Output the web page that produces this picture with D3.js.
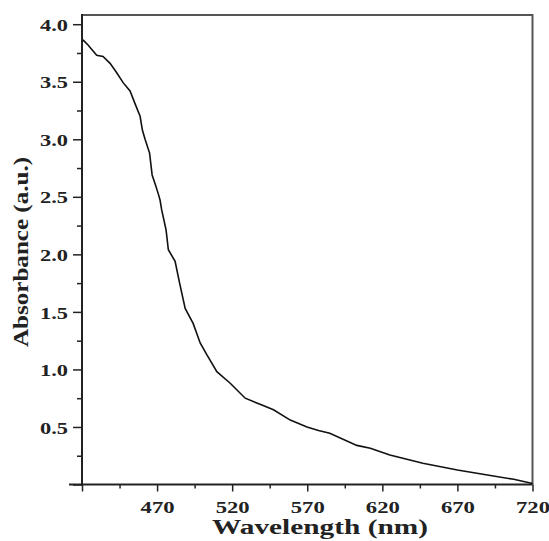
<!DOCTYPE html>
<html>
<head>
<meta charset="utf-8">
<script src="https://cdn.jsdelivr.net/npm/d3@7"></script>
<style>
  body { margin: 0; background: #fff; }
  svg text { font-family: "Liberation Serif", "Times New Roman", Times, serif; font-weight: bold; fill: #222; }
</style>
</head>
<body>
<main></main>
<script>
// spectrum
const wavelength = [420, 421, 424, 429.8, 434, 438.7, 443, 447.5, 452, 455.3, 458.7, 460.2, 462, 465, 466.7, 469, 470.7, 472, 473, 476, 477.5, 482, 485, 488.7, 494, 498.7, 503, 509.8, 518.7, 528.7, 539.8, 547.5, 558.7, 569.8, 577.5, 585, 603, 612, 625, 647, 670, 690, 707.5, 720]
const absorbance = [3.85, 3.86, 3.82, 3.73, 3.72, 3.66, 3.58, 3.49, 3.42, 3.31, 3.20, 3.08, 3.00, 2.88, 2.69, 2.60, 2.53, 2.47, 2.39, 2.21, 2.04, 1.94, 1.75, 1.53, 1.40, 1.23, 1.13, 0.98, 0.88, 0.75, 0.69, 0.65, 0.56, 0.50, 0.47, 0.445, 0.34, 0.315, 0.257, 0.184, 0.126, 0.083, 0.045, 0.008]

const xMajor = [420, 470, 520, 570, 620, 670, 720]
const xMinor = [445, 495, 545, 595, 645, 695]
const yMajor = [0, 0.5, 1.0, 1.5, 2.0, 2.5, 3.0, 3.5, 4.0]
const yMinor = [0.25, 0.75, 1.25, 1.75, 2.25, 2.75, 3.25, 3.75]

const size = { width: 549, height: 541, left: 82, right: 532.5, top: 15, bottom: 484.5 }

const svg = d3.select('main')
    .append('svg')
    .attr('width', size.width)
    .attr('height', size.height)

const x = d3.scaleLinear().domain([420, 720]).range([size.left, size.right])
const y = d3.scaleLinear().domain([0, 4.08]).range([size.bottom, size.top])

// frame top + right
svg.append('path')
    .attr('d', `M${size.left},${size.top}H${size.right}V${size.bottom}`)
    .attr('fill', 'none')
    .attr('stroke', '#555')
    .attr('stroke-width', 2)

// minor ticks first
svg.append('g')
    .attr('transform', `translate(0,${size.bottom})`)
    .call(d3.axisBottom(x).tickValues(xMinor).tickSize(4).tickFormat(''))
    .call(g => g.select('.domain').remove())
svg.append('g')
    .attr('transform', `translate(${size.left},0)`)
    .call(d3.axisLeft(y).tickValues(yMinor).tickSize(5).tickFormat(''))
    .call(g => g.select('.domain').remove())

const xAxis = svg.append('g')
    .attr('transform', `translate(0,${size.bottom})`)
    .call(d3.axisBottom(x).tickValues(xMajor).tickSize(7).tickPadding(9)
        .tickFormat(d => d === 420 ? '' : d))
xAxis.select('.domain').remove()
xAxis.selectAll('text')
    .attr('font-size', 17)
    .attr('textLength', 34)
    .attr('lengthAdjust', 'spacingAndGlyphs')

const yAxis = svg.append('g')
    .attr('transform', `translate(${size.left},0)`)
    .call(d3.axisLeft(y).tickValues(yMajor).tickSize(9).tickPadding(5)
        .tickFormat(d => d === 0 ? '' : d3.format('.1f')(d)))
yAxis.select('.domain').remove()
yAxis.selectAll('text')
    .attr('font-size', 17)
    .attr('textLength', 28)
    .attr('lengthAdjust', 'spacingAndGlyphs')
    .attr('dy', '0.36em')

svg.selectAll('.tick line').attr('stroke', '#222').attr('stroke-width', 1.5)

// axis lines
svg.append('line')
    .attr('x1', 69).attr('x2', size.right)
    .attr('y1', size.bottom).attr('y2', size.bottom)
    .attr('stroke', '#222').attr('stroke-width', 2)
svg.append('line')
    .attr('x1', size.left).attr('x2', size.left)
    .attr('y1', size.top - 1).attr('y2', size.bottom + 1)
    .attr('stroke', '#222').attr('stroke-width', 2)

// curve
const line = d3.line()
    .x(d => x(d[0]))
    .y(d => y(d[1]))
svg.append('path')
    .datum(wavelength.map((w, i) => [w, absorbance[i]]))
    .attr('d', line)
    .attr('fill', 'none')
    .attr('stroke', '#111')
    .attr('stroke-width', 1.6)

// titles
svg.append('text')
    .attr('x', 320).attr('y', 534)
    .attr('text-anchor', 'middle')
    .attr('font-size', 20)
    .attr('textLength', 216)
    .attr('lengthAdjust', 'spacingAndGlyphs')
    .text('Wavelength (nm)')

svg.append('text')
    .attr('transform', 'translate(28,252) rotate(-90)')
    .attr('text-anchor', 'middle')
    .attr('font-size', 21)
    .attr('textLength', 190)
    .attr('lengthAdjust', 'spacingAndGlyphs')
    .text('Absorbance (a.u.)')
</script>
</body>
</html>
